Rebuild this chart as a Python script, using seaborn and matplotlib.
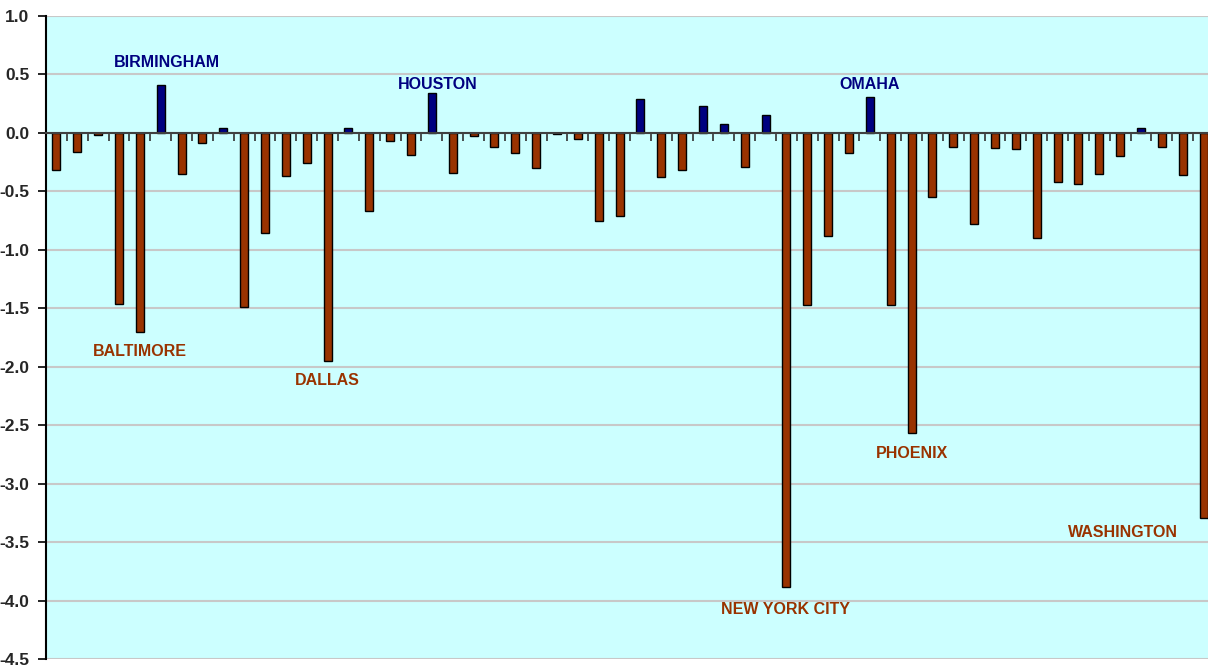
import numpy as np
import pandas as pd
import matplotlib
matplotlib.use("Agg")
import matplotlib.pyplot as plt
from matplotlib.ticker import MultipleLocator, FormatStrFormatter
import seaborn as sns

# values, left to right (56 cities)
values = [-0.32, -0.16, -0.02, -1.46, -1.70, 0.41, -0.35, -0.09, 0.04, -1.49,
          -0.86, -0.37, -0.26, -1.95, 0.04, -0.67, -0.07, -0.19, 0.34, -0.34,
          -0.03, -0.12, -0.17, -0.30, -0.01, -0.05, -0.75, -0.71, 0.29, -0.38,
          -0.32, 0.23, 0.08, -0.29, 0.15, -3.88, -1.47, -0.88, -0.17, 0.31,
          -1.47, -2.57, -0.55, -0.12, -0.78, -0.13, -0.14, -0.90, -0.42, -0.44,
          -0.35, -0.20, 0.04, -0.12, -0.36, -3.29]
# labelled cities: bar index -> name
labels = {5: "BIRMINGHAM", 4: "BALTIMORE", 13: "DALLAS", 18: "HOUSTON",
          35: "NEW YORK CITY", 39: "OMAHA", 41: "PHOENIX", 55: "WASHINGTON"}
# where each label sits (x offset in bars, y in data units)
label_pos = {5: (0.3, 0.6), 4: (0.0, -1.87), 13: (0.0, -2.12), 18: (0.3, 0.41),
             35: (-0.05, -4.08), 39: (0.0, 0.41), 41: (0.0, -2.74), 55: (-3.85, -3.42)}

neg_col = "#993300"
pos_col = "#000080"

df = pd.DataFrame({"city": np.arange(len(values)), "value": values})
df["sign"] = np.where(df["value"] >= 0, "pos", "neg")

sns.set_style("white")
plt.rcParams["font.family"] = ["Liberation Sans", "DejaVu Sans"]

fig = plt.figure(figsize=(12.08, 6.67), dpi=100)
# plot area runs a few pixels past the right edge of the picture
ax = fig.add_axes([46 / 1208, 1 - 659 / 667, (1214 - 46) / 1208, (659 - 16) / 667])
ax.set_facecolor("#CCFFFF")

sns.barplot(data=df, x="city", y="value", hue="sign", dodge=False,
            palette={"neg": neg_col, "pos": pos_col}, width=0.38, saturation=1,
            edgecolor="black", linewidth=1.0, legend=False, ax=ax, zorder=3)

ax.set_xlim(-0.5, len(values) - 0.5)
ax.set_ylim(-4.5, 1.0)
ax.yaxis.set_major_locator(MultipleLocator(0.5))
ax.yaxis.set_major_formatter(FormatStrFormatter("%.1f"))
ax.grid(axis="y", color="#c8c8c8", linewidth=1.5, zorder=0)
ax.set_axisbelow(True)

# category axis sits on zero, ticks between bars
ax.spines["bottom"].set_position(("data", 0))
ax.spines["bottom"].set_color("#404040")
ax.spines["bottom"].set_linewidth(1.5)
ax.spines["bottom"].set_zorder(4)
ax.spines["top"].set_visible(False)
ax.spines["right"].set_visible(False)
ax.spines["left"].set_color("black")
ax.spines["left"].set_linewidth(1.5)
ax.set_xticks(np.arange(len(values) - 1) + 0.5)
ax.set_xticklabels([])
ax.tick_params(axis="x", direction="out", length=6, width=1.2, color="#303030", bottom=True)
ax.tick_params(axis="y", direction="out", length=6, width=1.2, color="black", left=True,
               labelsize=12.5, pad=6)
for t in ax.get_yticklabels():
    t.set_fontweight("bold")
ax.set_xlabel("")
ax.set_ylabel("")

for i, name in labels.items():
    dx, y = label_pos[i]
    col = pos_col if values[i] >= 0 else neg_col
    ax.text(i + dx, y, name, color=col, fontsize=11.5, fontweight="bold",
            ha="center", va="center", zorder=5)

fig.savefig("out.png", dpi=100)
